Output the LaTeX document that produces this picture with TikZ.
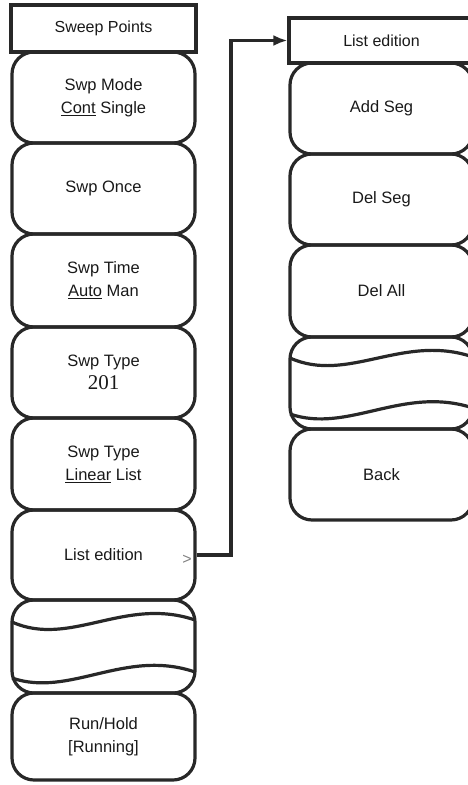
\documentclass[tikz,border=0pt]{standalone}
\usepackage{fontspec}
\setmainfont{Liberation Sans}
\newfontfamily\serifnum{Liberation Serif}
\usetikzlibrary{arrows.meta}
\definecolor{ink}{RGB}{40,40,40}
\definecolor{txt}{RGB}{25,25,25}
\begin{document}
\begin{tikzpicture}[x=1pt,y=-1pt,
  frame/.style={draw=ink, line width=3.2pt},
  titlebox/.style={frame, rectangle, minimum width=185pt, inner sep=0pt, font=\fontsize{16}{18}\selectfont, text=txt},
  btn/.style={frame, rounded corners=22pt, minimum width=183pt, inner sep=0pt, align=center, font=\fontsize{16.5}{23}\selectfont, text=txt},
  wave/.style={draw=ink, line width=3.2pt},
  conn/.style={draw=ink, line width=3.2pt, -{Latex[length=14pt,width=11pt]}},
]
\useasboundingbox (0,0) rectangle (468,785);
\clip (0,0) rectangle (468,785);

% left column
\node[titlebox, minimum height=47pt] (t1) at (103.5,28.5) {Sweep Points};
\node[btn, minimum height=91pt] (b1) at (103.5,97.5) {Swp Mode\\\underline{Cont} Single};
\node[btn, minimum height=91pt] (b2) at (103.5,188.5) {Swp Once};
\node[btn, minimum height=93pt] (b3) at (103.5,280.5) {Swp Time\\\underline{Auto} Man};
\node[btn, minimum height=91pt] (b4) at (103.5,372.5) {Swp Type\\{\serifnum\fontsize{21}{23}\selectfont 201}};
\node[btn, minimum height=92pt] (b5) at (103.5,464) {Swp Type\\\underline{Linear} List};
\node[btn, minimum height=90pt] (b6) at (103.5,555) {List edition};
\node[btn, minimum height=93pt] (w1) at (103.5,646.5) {};
\node[btn, minimum height=87pt] (b7) at (103.5,736.5) {Run/Hold\\{[}Running{]}};
\draw[wave] (12,622) .. controls (70,648) and (125,596) .. (195,620);
\draw[wave] (12,678) .. controls (70,698) and (125,648) .. (195,672);
\node[text=gray, font=\fontsize{16}{16}\selectfont, inner sep=0pt] (gt) at (187,560) {>};

% right column
\node[titlebox, minimum height=45pt] (t2) at (381.5,40.5) {List edition};
\node[btn, minimum height=91pt] (r1) at (381.5,108.5) {Add Seg};
\node[btn, minimum height=91pt] (r2) at (381.5,199.5) {Del Seg};
\node[btn, minimum height=92pt] (r3) at (381.5,291) {Del All};
\node[btn, minimum height=92pt] (w2) at (381.5,383) {};
\node[btn, minimum height=91pt] (r4) at (381.5,474.5) {Back};
\draw[wave] (290,358) .. controls (348,384) and (403,333) .. (473,357);
\draw[wave] (290,414) .. controls (348,434) and (403,385) .. (473,408);

% connector
\draw[conn] (b6.east) -- (231,555) |- (t2.west);
\end{tikzpicture}
\end{document}
